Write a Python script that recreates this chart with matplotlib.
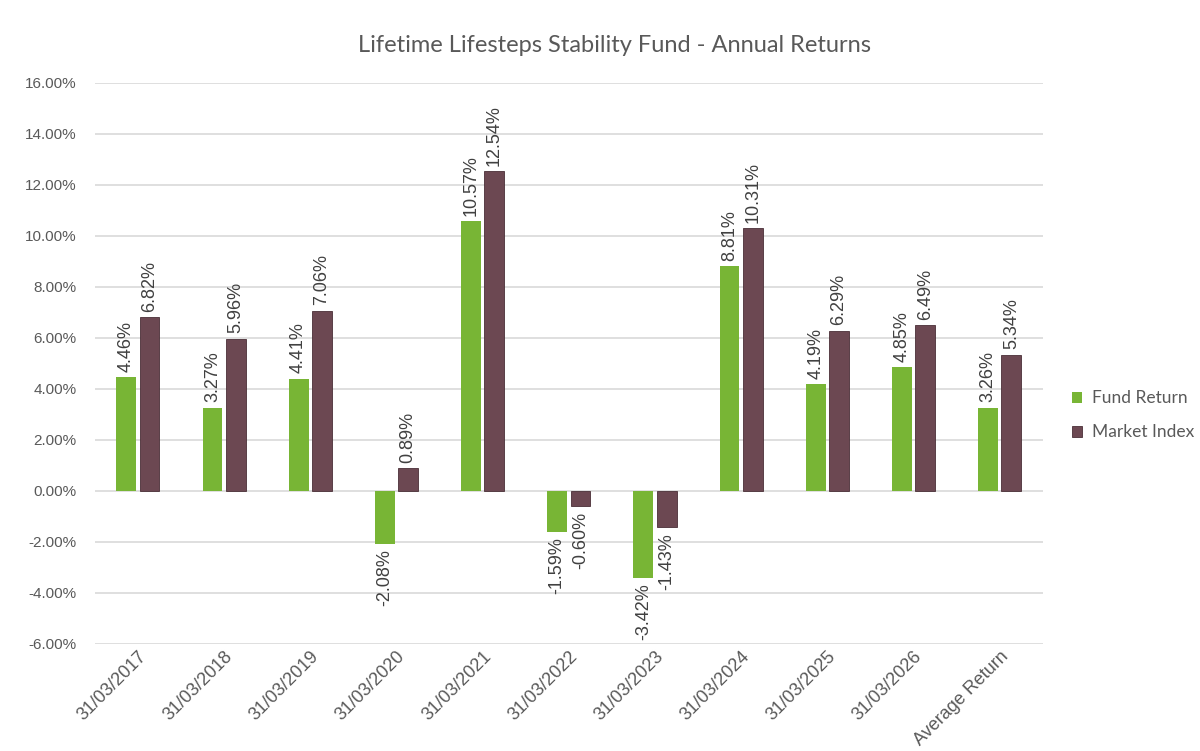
import numpy as np
import matplotlib.pyplot as plt
from matplotlib.ticker import FuncFormatter

categories = ['31/03/2017', '31/03/2018', '31/03/2019', '31/03/2020', '31/03/2021',
              '31/03/2022', '31/03/2023', '31/03/2024', '31/03/2025', '31/03/2026',
              'Average Return']
fund_return = [4.46, 3.27, 4.41, -2.08, 10.57, -1.59, -3.42, 8.81, 4.19, 4.85, 3.26]
market_index = [6.82, 5.96, 7.06, 0.89, 12.54, -0.60, -1.43, 10.31, 6.29, 6.49, 5.34]

GREEN = '#78b535'
MAROON = '#6c4852'
TEXT = '#595959'


def add_labels(ax, xs, vals):
    for x, v in zip(xs, vals):
        if v >= 0:
            ax.annotate(f'{v:.2f}%', (x, v), xytext=(0, 4), textcoords='offset points',
                        rotation=90, ha='center', va='bottom', fontsize=13,
                        color='#404040', family='Liberation Sans')
        else:
            ax.annotate(f'{v:.2f}%', (x, v), xytext=(0, -4), textcoords='offset points',
                        rotation=90, ha='center', va='top', fontsize=13,
                        color='#404040', family='Liberation Sans')


def main():
    fig = plt.figure(figsize=(12, 7.51), dpi=100)
    ax = fig.add_axes([0.079, 0.1425, 0.79, 0.747])

    x = np.arange(len(categories))
    w = 0.23
    off = 0.135
    ax.bar(x - off, fund_return, w, color=GREEN, label='Fund Return', zorder=3)
    ax.bar(x + off, market_index, w, color=MAROON, edgecolor='#4a2f37', linewidth=0.6,
           label='Market Index', zorder=3)

    add_labels(ax, x - off, fund_return)
    add_labels(ax, x + off, market_index)

    ax.set_xlim(-0.5, len(categories) - 0.5)
    ax.set_ylim(-6, 16)
    ax.set_yticks(np.arange(-6, 17, 2))
    ax.yaxis.set_major_formatter(FuncFormatter(lambda v, p: f'{v:.2f}%'))
    ax.grid(axis='y', color='#d9d9d9', linewidth=1.2, zorder=0)
    for s in ax.spines.values():
        s.set_visible(False)
    ax.tick_params(axis='x', length=0, pad=3)
    ax.tick_params(axis='y', length=0, pad=13)

    ax.set_xticks(x)
    ax.set_xticklabels(categories, rotation=45, ha='right', rotation_mode='anchor',
                       fontsize=13, color=TEXT, family='Liberation Sans')
    for lab in ax.get_yticklabels():
        lab.set_fontsize(11)
        lab.set_color(TEXT)
        lab.set_family('Liberation Sans')

    fig.text(0.512, 0.94, 'Lifetime Lifesteps Stability Fund - Annual Returns',
             ha='center', va='center', fontsize=17, color=TEXT, family='Lato')

    leg = fig.legend(loc='center left', bbox_to_anchor=(0.893, 0.447), frameon=False,
                     prop={'family': 'Lato', 'size': 12.5}, handlelength=0.6,
                     handleheight=0.6, handletextpad=0.55, labelspacing=1.05,
                     borderpad=0, borderaxespad=0)
    for t in leg.get_texts():
        t.set_color(TEXT)

    fig.savefig('out.png', dpi=100)
    plt.close(fig)


if __name__ == '__main__':
    main()
